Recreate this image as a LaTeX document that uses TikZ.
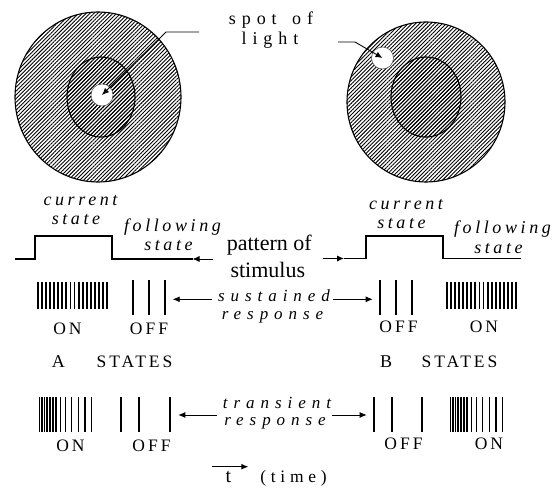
\documentclass[tikz,border=0pt]{standalone}
\usepackage{fontspec}
\setmainfont{Liberation Serif}
\usetikzlibrary{arrows.meta,patterns.meta}
\newfontfamily\spotfont[LetterSpace=33]{Liberation Serif}
\newfontfamily\statefont[LetterSpace=20]{Liberation Serif}
\newfontfamily\respfont[LetterSpace=35]{Liberation Serif}
\newfontfamily\capfont[LetterSpace=17]{Liberation Serif}
\newfontfamily\timefont[LetterSpace=27]{Liberation Serif}
\begin{document}
\begin{tikzpicture}[x=1pt,y=-1pt,
  hatch/.style={pattern={Lines[angle=45,distance=2.7pt,line width=0.9pt]}, pattern color=black, draw=black, line width=1.1pt},
  spotc/.style={circle, draw=black!70, line width=0.5pt, fill=white, minimum size=22pt, inner sep=0pt},
  arr/.style={line width=0.9pt, -{Latex[length=7pt,width=6pt]}},
  pulse/.style={line width=1.4pt},
  spk/.style={line width=1.8pt},
  lbl/.style={inner sep=0pt, anchor=center},
  sp/.style={lbl, font=\fontsize{18}{21}\spotfont},
  st/.style={lbl, font=\fontsize{18}{21}\statefont\itshape},
  rs/.style={lbl, font=\fontsize{17}{20}\respfont\itshape},
  cp/.style={lbl, font=\fontsize{17.5}{20}\capfont},
  big/.style={lbl, font=\fontsize{22}{26}\selectfont},
]
\useasboundingbox (0,0) rectangle (555,489);
% left receptive field
\draw[hatch] (98,97) ellipse [x radius=83, y radius=85];
\draw[hatch] (101,97) ellipse [x radius=34, y radius=40];
\node[spotc] (spotL) at (102,95) {};
% right receptive field
\draw[hatch] (426,102) ellipse [x radius=79, y radius=80];
\draw[hatch] (426,97) ellipse [x radius=35, y radius=40];
\node[spotc] (spotR) at (382.5,58) {};
% spot of light label
\node[sp] (spot1) at (271,20) {spot\hspace{5pt} of};
\node[sp] (spot2) at (270,40) {light};
\coordinate (lA) at (199,32);
\coordinate (lB) at (166,32);
\coordinate (rA) at (338,42);
\coordinate (rB) at (355,42);
\draw[arr] (lA) -- (lB) -- (spotL.center);
\draw[arr] (rA) -- (rB) -- (spotR.center);
% state labels
\node[st] (curL) at (80.5,200.7) {current};
\node[st] (curLs) at (76,219.3) {state};
\node[st] (folL) at (172.5,227.3) {following};
\node[st] (folLs) at (168.5,246) {state};
\node[st] (curR) at (406,204.3) {current};
\node[st] (curRs) at (401.5,223.3) {state};
\node[st] (folR) at (502.5,229.3) {following};
\node[st] (folRs) at (498.5,248.3) {state};
% pulses
\coordinate (pLend) at (192.5,259);
\coordinate (pRst) at (344,258.5);
\draw[pulse] (15,259) -- (35,259) -- (35,236) -- (112,236) -- (112,259) -- (pLend);
\draw[pulse] (pRst) -- (366,258.5) -- (366,236) -- (443,236) -- (443,258.5) -- (521,258.5);
% pattern of stimulus
\node[big] (pat1) at (269.3,245) {pattern of};
\node[big] (pat2) at (267.8,270) {stimulus};
\coordinate (paL) at (213,259);
\coordinate (paR) at (323,258.5);
\draw[arr] (paL) -- (pLend);
\draw[arr] (paR) -- (pRst);
% sustained response
\foreach \i in {0,...,17} \draw[spk] ({37.6+\i*4.1},282) -- ++(0,27);
\foreach \x in {133,149,165} \draw[spk] (\x,280.5) -- ++(0,34.5);
\foreach \x in {380,396,412.3} \draw[spk] (\x,280.5) -- ++(0,34.5);
\foreach \i in {0,...,17} \draw[spk] ({446.8+\i*4.08},282) -- ++(0,27);
\node[rs] (sus1) at (274,295.5) {sustained};
\node[rs] (sus2) at (272.5,317.5) {response};
\coordinate (s1) at (211.7,299.3);
\coordinate (s1t) at (172.7,299.3);
\coordinate (s2) at (333.3,299.3);
\coordinate (s2t) at (372.7,299.3);
\draw[arr] (s1) -- (s1t);
\draw[arr] (s2) -- (s2t);
\node[cp] (on1) at (67.5,329) {ON};
\node[cp] (off1) at (149,329) {OFF};
\node[cp] (off2) at (398.5,326.7) {OFF};
\node[cp] (on2) at (484,326.7) {ON};
% states
\node[lbl, font=\fontsize{18}{20}\selectfont] (A) at (58.3,361.7) {A};
\node[cp] (stA) at (134.5,361.7) {STATES};
\node[lbl, font=\fontsize{18}{20}\selectfont] (B) at (386.2,361.7) {B};
\node[cp] (stB) at (459.5,361.7) {STATES};
% transient response
\foreach \x in {39.5,42,44.5,47,49.7,52.7,56.3,60.5,65.5,71.5,78.5,85,91.5} \draw[spk] (\x,397.5) -- ++(0,34.5);
\foreach \x in {121,139,170} \draw[spk] (\x,397.5) -- ++(0,34.5);
\foreach \x in {374,391.7,421.7} \draw[spk] (\x,397.5) -- ++(0,34.5);
\foreach \x in {39.5,42,44.5,47,49.7,52.7,56.3,60.5,65.5,71.5,78.5,85,91.5} \draw[spk] ({\x+411},397.5) -- ++(0,34.5);
\node[rs] (tr1) at (277,402.5) {transient};
\node[rs] (tr2) at (275,423) {response};
\coordinate (t1) at (216.7,415);
\coordinate (t1t) at (178.3,415);
\coordinate (t2) at (332.3,415);
\coordinate (t2t) at (366.7,415);
\draw[arr] (t1) -- (t1t);
\draw[arr] (t2) -- (t2t);
\node[cp] (on3) at (70.5,446) {ON};
\node[cp] (off3) at (151.5,446) {OFF};
\node[cp] (off4) at (403.5,444) {OFF};
\node[cp] (on4) at (489,444) {ON};
% time
\coordinate (ta) at (212.3,466.7);
\coordinate (tb) at (248.3,466.7);
\draw[arr] (ta) -- (tb);
\node[lbl, font=\fontsize{20}{22}\selectfont] (tt) at (228.3,476.7) {t};
\node[lbl, font=\fontsize{17.5}{20}\timefont] (time) at (293.5,478) {(time)};
\end{tikzpicture}
\end{document}
